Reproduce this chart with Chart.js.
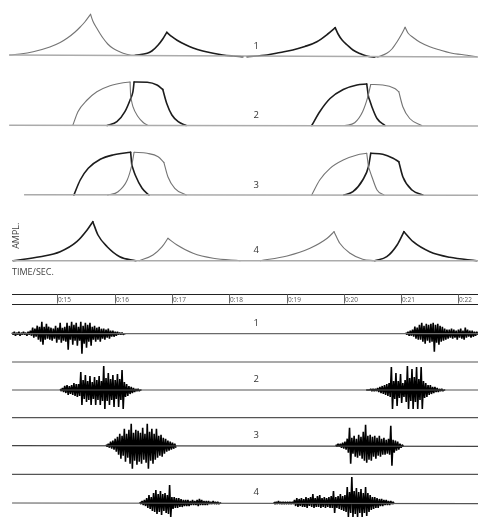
<!DOCTYPE html>
<html>
<head>
<meta charset="utf-8">
<title>Amplitude envelopes and waveforms</title>
<script src="https://cdn.jsdelivr.net/npm/chart.js@4/dist/chart.umd.min.js"></script>
<style>
    html, body { margin: 0; padding: 0; background: #fff; }
    canvas { display: block; filter: blur(0.3px); }
</style>
</head>
<body>
<canvas id="chart" width="478" height="517"></canvas>
<script>
// time axis, seconds
const timeMin = 14;
const timeMax = 22.342;
const tickSeconds = [15, 16, 17, 18, 19, 20, 21, 22];
const tickLabels = ['0:15', '0:16', '0:17', '0:18', '0:19', '0:20', '0:21', '0:22'];
const panelLabels = ['1', '2', '3', '4', '1', '2', '3', '4'];

// envelope curves, [time, amplitude]
const env1a = [[14.17, 1], [14.35, 2], [14.58, 4.3], [14.87, 9], [15.05, 13.5], [15.17, 17.7], [15.31, 24], [15.40, 29], [15.48, 34], [15.58, 41.7], [15.62, 35], [15.69, 27.7], [15.75, 22], [15.80, 17.7], [15.88, 12], [15.97, 7.7], [16.06, 5], [16.15, 2.7], [16.27, 1], [16.36, 0.7]];
const env1b = [[16.36, 0.7], [16.57, 2.7], [16.65, 5], [16.76, 11], [16.84, 17], [16.91, 23.7], [17.00, 19.3], [17.09, 15.8], [17.23, 11.5], [17.37, 8], [17.54, 5], [17.72, 2.7], [17.89, 1], [18.07, 0], [18.24, -0.7]];
const env1c = [[18.31, -0.7], [18.66, 1], [18.89, 3.5], [19.11, 6], [19.32, 9.5], [19.53, 14.3], [19.72, 22], [19.85, 28.3], [19.90, 22], [19.97, 16], [20.06, 11], [20.16, 6], [20.28, 2.5], [20.40, 0], [20.54, -1.3]];
const env1d = [[20.58, -1.3], [20.75, 2.7], [20.84, 7], [20.93, 14.3], [21.00, 21], [21.07, 28.7], [21.12, 23], [21.21, 18.5], [21.33, 13.8], [21.50, 9.3], [21.68, 6], [21.85, 3.3], [22.15, 0.7], [22.32, -0.7]];

const env2a = [[15.27, 0], [15.36, 13.8], [15.52, 25.5], [15.69, 33.8], [15.92, 39.8], [16.15, 42.8], [16.27, 43.5], [16.28, 28.8], [16.32, 18.8], [16.41, 8.8], [16.50, 3], [16.58, 0]];
const env2b = [[15.87, 0], [16.04, 3.8], [16.18, 13.8], [16.27, 25.5], [16.32, 33.8], [16.34, 43.5], [16.57, 43.2], [16.74, 40.5], [16.84, 36.2], [16.91, 22], [17.00, 10.5], [17.11, 3.8], [17.25, 0]];
const env2c = [[19.44, 0], [19.58, 13.8], [19.76, 27], [19.99, 36], [20.23, 40.5], [20.40, 41.5], [20.43, 28.8], [20.49, 18.8], [20.58, 7], [20.72, 0]];
const env2d = [[20.02, 0], [20.19, 2.8], [20.33, 14], [20.42, 28.8], [20.47, 41], [20.68, 40.5], [20.89, 37], [20.96, 33.8], [21.03, 18.8], [21.15, 7], [21.36, 0]];

const env3a = [[15.29, 0], [15.40, 15], [15.54, 26.7], [15.75, 35.7], [15.97, 40], [16.28, 42.7], [16.30, 30], [16.36, 20], [16.48, 6.7], [16.60, 0]];
const env3b = [[15.88, 0], [16.06, 3.3], [16.22, 15], [16.30, 30], [16.34, 42.7], [16.57, 41.7], [16.76, 38.3], [16.86, 32.7], [16.93, 18.3], [17.05, 6.7], [17.25, 0]];
const env3c = [[19.44, 0], [19.58, 15], [19.76, 26.7], [19.99, 35], [20.23, 40], [20.40, 41.7], [20.43, 28.3], [20.49, 18.3], [20.58, 5], [20.70, 0]];
const env3d = [[20.00, 0], [20.16, 3.3], [20.33, 15], [20.43, 28.3], [20.47, 41.7], [20.68, 40.7], [20.86, 36.7], [20.96, 33.3], [21.03, 18.3], [21.19, 5], [21.38, 0]];

const env4a = [[14.23, 0], [14.70, 4], [15.05, 9], [15.34, 19], [15.52, 30.7], [15.62, 39], [15.71, 25.7], [15.87, 14], [16.09, 4], [16.37, 0]];
const env4b = [[16.43, 0], [16.67, 5.7], [16.83, 14], [16.93, 22.4], [17.09, 15.7], [17.37, 7.4], [17.72, 2.4], [18.19, 0]];
const env4c = [[18.54, 0], [19.01, 4.7], [19.41, 12.4], [19.71, 22.4], [19.83, 29], [19.93, 17.4], [20.11, 7.4], [20.33, 1.4], [20.54, 0]];
const env4d = [[20.54, 0], [20.75, 4], [20.93, 15.7], [21.05, 29], [21.21, 19], [21.50, 9], [21.85, 3.4], [22.32, 0]];

// waveform peaks: start time, then peak above and below the line for each step
const sampleStep = 0.04;

const wave1aStart = 14.21;
const wave1aUp = [1, 2, 1, 2, 1, 2, 1, 2, 3, 6, 5, 8, 7, 12, 7, 10, 7, 6, 5, 8, 6, 11, 6, 7, 11, 8, 12, 9, 11, 7, 12, 8, 11, 9, 11, 7, 8, 6, 7, 5, 5, 4, 5, 3, 3, 2, 2, 1, 1, 0];
const wave1aDown = [1, 2, 1, 2, 1, 1, 2, 1, 2, 4, 3, 6, 8, 11, 6, 5, 6, 7, 5, 9, 6, 9, 7, 8, 16, 6, 11, 7, 12, 7, 20, 10, 14, 8, 12, 6, 8, 6, 8, 5, 6, 4, 5, 3, 3, 2, 1, 1, 1, 0];

const wave1bStart = 21.08;
const wave1bUp = [1, 2, 3, 4, 7, 6, 9, 11, 8, 10, 9, 10, 11, 9, 10, 8, 7, 5, 4, 4, 5, 4, 3, 4, 5, 3, 6, 4, 3, 3, 2, 2];
const wave1bDown = [1, 2, 2, 3, 5, 6, 6, 8, 10, 7, 9, 8, 18, 9, 11, 8, 7, 6, 5, 4, 5, 4, 6, 4, 5, 6, 4, 3, 4, 3, 2, 1];

const wave2aStart = 15.05;
const wave2aUp = [1, 2, 4, 5, 4, 5, 7, 6, 6, 18, 10, 15, 9, 14, 8, 13, 10, 14, 9, 24, 12, 17, 11, 15, 10, 16, 11, 20, 8, 6, 4, 3, 2, 1, 1, 0];
const wave2aDown = [1, 2, 3, 5, 4, 5, 6, 7, 6, 15, 9, 12, 10, 15, 9, 15, 10, 15, 11, 19, 11, 15, 10, 17, 9, 17, 10, 19, 7, 6, 4, 3, 2, 1, 1, 0];

const wave2bStart = 20.39;
const wave2bUp = [0, 0, 1, 1, 1, 2, 3, 4, 5, 6, 7, 23, 9, 17, 9, 16, 7, 10, 24, 12, 21, 13, 23, 11, 23, 9, 7, 5, 5, 3, 3, 2, 1, 1, 0];
const wave2bDown = [0, 0, 1, 1, 1, 2, 3, 4, 5, 6, 7, 19, 9, 16, 8, 13, 7, 12, 19, 11, 19, 12, 19, 10, 19, 8, 7, 5, 4, 3, 2, 2, 1, 1, 0];

const wave3aStart = 15.85;
const wave3aUp = [1, 2, 4, 5, 7, 9, 12, 10, 17, 12, 16, 22, 13, 16, 15, 13, 18, 12, 22, 14, 17, 12, 17, 10, 11, 8, 7, 5, 4, 3, 2];
const wave3aDown = [1, 2, 3, 4, 6, 9, 13, 10, 16, 12, 18, 23, 15, 19, 16, 18, 14, 17, 23, 15, 18, 14, 12, 10, 11, 8, 6, 5, 4, 3, 2];

const wave3bStart = 19.86;
const wave3bUp = [1, 2, 2, 3, 4, 7, 18, 8, 10, 7, 11, 9, 14, 21, 10, 11, 9, 10, 8, 10, 7, 8, 6, 7, 20, 6, 5, 4, 2, 1];
const wave3bDown = [1, 1, 2, 3, 4, 7, 18, 8, 11, 12, 10, 13, 15, 17, 14, 15, 11, 13, 10, 11, 9, 9, 8, 9, 20, 7, 5, 4, 2, 1];

const wave4aStart = 16.44;
const wave4aUp = [1, 2, 3, 5, 8, 6, 10, 13, 9, 12, 9, 10, 8, 18, 6, 6, 5, 5, 4, 3, 3, 3, 2, 3, 2, 3, 4, 3, 2, 2, 2, 1, 2, 1, 1, 0];
const wave4aDown = [1, 2, 3, 5, 6, 8, 9, 11, 9, 12, 8, 10, 11, 14, 6, 5, 5, 4, 4, 3, 3, 3, 2, 2, 2, 3, 2, 2, 2, 2, 1, 1, 1, 1, 1, 0];

const wave4bStart = 18.78;
const wave4bUp = [1, 1, 2, 1, 1, 1, 1, 1, 1, 3, 5, 4, 5, 4, 6, 5, 6, 9, 5, 7, 8, 5, 6, 5, 6, 7, 12, 6, 7, 9, 7, 8, 16, 11, 26, 12, 15, 11, 14, 10, 16, 10, 8, 6, 6, 5, 4, 4, 3, 3, 2, 2, 1];
const wave4bDown = [1, 1, 1, 1, 1, 1, 1, 1, 1, 3, 4, 3, 4, 4, 5, 3, 4, 5, 4, 4, 5, 4, 5, 4, 5, 5, 10, 5, 6, 7, 8, 9, 14, 10, 14, 11, 14, 10, 14, 10, 13, 9, 7, 6, 5, 5, 3, 3, 2, 2, 2, 1, 1];

// baseline levels at the left and right end of each panel
const baseline1 = [1, -1];
const baseline2 = [0.3, -0.5];
const baseline3 = [0.2, -0.3];
const baseline4 = [0, 0];
const baseline5 = [0, 0];
const baseline6 = [0, 0];
const baseline7 = [0, -0.7];
const baseline8 = [0, -0.7];

// ruler and separator lines, amplitude relative to the waveform above or below
const rulerLevels = [39.2, 29.2];
const separatorLevels = [-28.3, -27.7, -28.6];

// layout: pixel row of amplitude zero for each panel
const panelZero = [56, 125.5, 195, 260.7, 333.7, 390, 445.7, 503];
const chartHeight = 517;
const lineStart = [14.16, 14.16, 14.42, 14.22, 14.21, 14.21, 14.21, 14.21];

const DARK = '#1c1c1c';
const GREY = '#747474';
const LINE_GREY = '#ababab';

// the curves turn sharply at the given times, so each stretch is its own smooth line
function curve(points, color, panel, width, breaks) {
    const parts = [];
    let current = [];
    points.forEach(p => {
        current.push({ x: p[0], y: p[1] });
        if (breaks.includes(p[0])) {
            parts.push(current);
            current = [{ x: p[0], y: p[1] }];
        }
    });
    parts.push(current);
    return parts.map(part => ({
        data: part,
        borderColor: color,
        borderWidth: width,
        borderCapStyle: 'round',
        cubicInterpolationMode: 'monotone',
        yAxisID: 'p' + panel
    }));
}

function wave(start, up, down, panel) {
    const data = [];
    for (let i = 0; i < up.length; i++) {
        data.push({ x: start + i * sampleStep, y: up[i] });
        data.push({ x: start + (i + 0.5) * sampleStep, y: -down[i] });
    }
    return {
        data: data,
        borderColor: '#000',
        borderWidth: 1.6,
        borderJoinStyle: 'bevel',
        yAxisID: 'p' + panel
    };
}

function hline(level, panel, color, width, from) {
    return {
        data: [{ x: from, y: level }, { x: timeMax, y: level }],
        borderColor: color,
        borderWidth: width,
        yAxisID: 'p' + panel
    };
}

function baseline(levels, panel, color, width) {
    return {
        data: [{ x: lineStart[panel], y: levels[0] }, { x: timeMax, y: levels[1] }],
        borderColor: color,
        borderWidth: width,
        yAxisID: 'p' + panel
    };
}

const datasets = [
    baseline(baseline1, 0, LINE_GREY, 1.5),
    baseline(baseline2, 1, LINE_GREY, 1.5),
    baseline(baseline3, 2, LINE_GREY, 1.5),
    baseline(baseline4, 3, LINE_GREY, 1.5),
    baseline(baseline5, 4, '#6a6a6a', 1.2),
    baseline(baseline6, 5, '#555', 1.2),
    baseline(baseline7, 6, '#444', 1.2),
    baseline(baseline8, 7, '#555', 1.2),

    ...curve(env1a, GREY, 0, 1.1, [15.58]),
    ...curve(env1b, DARK, 0, 1.6, [16.91]),
    ...curve(env1c, DARK, 0, 1.6, [19.85]),
    ...curve(env1d, GREY, 0, 1.1, [21.07]),
    ...curve(env2a, GREY, 1, 1.1, [16.27, 16.28]),
    ...curve(env2b, DARK, 1, 1.6, [16.34, 16.84]),
    ...curve(env2d, GREY, 1, 1.1, [20.47, 20.96]),
    ...curve(env2c, DARK, 1, 1.6, [20.40, 20.43]),
    ...curve(env3b, GREY, 2, 1.1, [16.34, 16.86]),
    ...curve(env3a, DARK, 2, 1.6, [16.28, 16.30]),
    ...curve(env3c, GREY, 2, 1.1, [20.40, 20.43]),
    ...curve(env3d, DARK, 2, 1.6, [20.47, 20.96]),
    ...curve(env4a, DARK, 3, 1.6, [15.62]),
    ...curve(env4b, GREY, 3, 1.1, [16.93]),
    ...curve(env4c, GREY, 3, 1.1, [19.83]),
    ...curve(env4d, DARK, 3, 1.6, [21.05]),

    wave(wave1aStart, wave1aUp, wave1aDown, 4), wave(wave1bStart, wave1bUp, wave1bDown, 4),
    wave(wave2aStart, wave2aUp, wave2aDown, 5), wave(wave2bStart, wave2bUp, wave2bDown, 5),
    wave(wave3aStart, wave3aUp, wave3aDown, 6), wave(wave3bStart, wave3bUp, wave3bDown, 6),
    wave(wave4aStart, wave4aUp, wave4aDown, 7), wave(wave4bStart, wave4bUp, wave4bDown, 7),

    hline(rulerLevels[0], 4, '#222', 1.2, 14.21),
    hline(rulerLevels[1], 4, '#222', 1.2, 14.21),
    hline(separatorLevels[0], 4, '#555', 1.2, 14.21),
    hline(separatorLevels[1], 5, '#555', 1.2, 14.21),
    hline(separatorLevels[2], 6, '#555', 1.2, 14.21)
];

// one hidden y scale per panel, all at the same pixels-per-unit
const scales = {
    x: { type: 'linear', min: timeMin, max: timeMax, display: false }
};
panelZero.forEach((zero, i) => {
    scales['p' + i] = { type: 'linear', min: zero - chartHeight, max: zero, display: false };
});

// ruler ticks and the loose texts
const annotate = {
    id: 'annotate',
    afterDatasetsDraw(chart) {
        const ctx = chart.ctx;
        const x = chart.scales.x;
        const ruler = chart.scales.p4;
        ctx.save();
        ctx.textBaseline = 'middle';

        tickSeconds.forEach((sec, i) => {
            const px = Math.round(x.getPixelForValue(sec)) + 0.5;
            ctx.strokeStyle = '#666';
            ctx.lineWidth = 1;
            ctx.beginPath();
            ctx.moveTo(px, ruler.getPixelForValue(rulerLevels[0]));
            ctx.lineTo(px, ruler.getPixelForValue(rulerLevels[1]) - 1);
            ctx.stroke();
            ctx.fillStyle = '#555';
            ctx.font = '6.5px "Open Sans"';
            ctx.textAlign = 'left';
            ctx.fillText(tickLabels[i], px + 0.5, ruler.getPixelForValue(rulerLevels[0]) + 5.5);
        });

        ctx.fillStyle = '#333';
        ctx.font = '9.5px "Open Sans"';
        ctx.textAlign = 'center';
        panelLabels.forEach((label, i) => {
            const level = i < 4 ? 10 : 10.5;
            ctx.fillText(label, x.getPixelForValue(18.47), chart.scales['p' + i].getPixelForValue(level));
        });

        ctx.fillStyle = '#444';
        ctx.font = '9px "Open Sans"';
        ctx.textAlign = 'left';
        ctx.fillText('TIME/SEC.', x.getPixelForValue(14.21), chart.scales.p3.getPixelForValue(-12));

        ctx.translate(x.getPixelForValue(14.28), chart.scales.p3.getPixelForValue(25));
        ctx.rotate(-Math.PI / 2);
        ctx.textAlign = 'center';
        ctx.fillText('AMPL.', 0, 0);
        ctx.restore();
    }
};

new Chart(document.getElementById('chart'), {
    type: 'scatter',
    data: { datasets: datasets },
    options: {
        responsive: false,
        animation: false,
        layout: { padding: 0 },
        showLine: true,
        elements: {
            point: { radius: 0 },
            line: { tension: 0 }
        },
        plugins: {
            legend: { display: false },
            tooltip: { enabled: false }
        },
        scales: scales
    },
    plugins: [annotate]
});
</script>
</body>
</html>
